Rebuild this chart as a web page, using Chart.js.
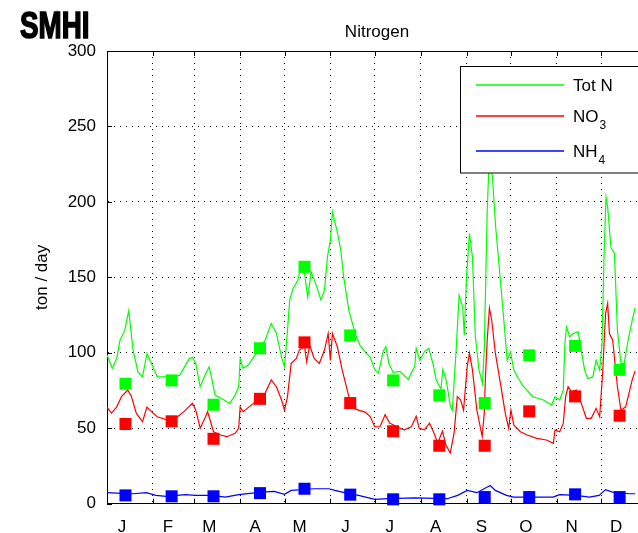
<!DOCTYPE html>
<html>
<head>
<meta charset="utf-8">
<title>Nitrogen</title>
<script src="https://cdn.jsdelivr.net/npm/chart.js@4.4.1/dist/chart.umd.min.js"></script>
<style>
html,body{margin:0;padding:0;background:#fff;overflow:hidden;}
canvas{display:block;}
</style>
</head>
<body>
<canvas id="myNitrogenChart" width="660" height="533"></canvas>
<script>
// x is day of year, y is ton / day
var monthStarts=[0,31,59,90,120,151,181,212,243,273,304,334,365];
var monthLabels=["J","F","M","A","M","J","J","A","S","O","N","D",""];
var seriesNames=["Tot N","NO3","NH4"];
var seriesColors=["#00ff00","#ff0000","#0000ff"];

var totNDays=[0,3.6,6.5,8.7,12,14.7,17.6,21,24,27,30,34,39,44,49,52,55.5,57.7,60,63,66.6,69,71,73,76.7,81,83,86.6,89,90,92,95.6,100,103.4,106.8,111,114.5,118,120,122,123.5,125.7,129,131,133.5,135.7,138,141,144.6,147,149,151,152.4,154,155.7,158,160,163.5,168,171,175,178,181,183.5,186.7,188.5,190.5,193.4,198,203.6,208,209,211.5,214.6,217.5,220.5,222.5,223.7,225.7,227,229,230.4,232,233.4,236,238,240.4,241.5,243,245,247,249,251.5,253.8,255,257,258.5,260.5,262.7,265,267.5,270.5,272.7,275,278,281.6,288,295,300.6,302.8,306,308.4,309.5,310.6,312.8,315,318.4,320.6,322.8,325,328.4,330.6,333,334.6,336,337.3,338.4,340.6,343,345,347.4,349.6,351.8,355,357];
var totNValues=[98.5,89.6,96,108,115,128,102,87,84,99.6,93,84,84,84,85,90,96,97,93,77.5,86,90.7,82,72,70,67.5,66.5,72,77.5,96,89.7,92,98.5,104,108,119.5,113,97,90.7,115,135,142.6,148,157,152.6,137,153.6,146,135,141.5,163.6,174.6,193.4,186.8,180,168,150,128,112,105,100,97,88.7,86.6,101,104,93,87,87.7,82.5,91,103,95,101,103,92,82,79.7,76,89,83,75.3,65,62,101.8,138,130.5,111.7,150,179,163.6,110.6,88.5,79.7,101.8,194.5,232,216.5,183.5,158,130,95,100.7,88.5,83,77.5,70.9,68.7,65.4,70.9,68.7,75.3,106,117,110.6,112.8,113.9,101.8,88.5,83,84,95,88.5,106,165.8,203,196.7,170,165.8,115,93,93,106,121.7,130];

var no3Days=[0,3,6.5,9.8,14,16.5,19.8,24,27,30,34,41,47.7,52,57.7,60,63,66.6,68,72,76.7,81,86.6,89,90,92,99,102,106.8,111,114.5,118,120,122,124.5,128,130,133.5,135,137,140,143.5,147,149.5,151,152.4,155.7,159,162.4,164.6,167,170,174.7,178,181,184.5,188,191,198,201,205.7,209,211,214.6,218,221,223.5,226.8,229,232,234.6,236.8,239,241,243.5,245,247,250,253.6,255,255.8,257,258.5,260,262.5,265.7,269.2,271.5,273,275,279.4,284,290.5,297,301.7,302.8,306,308.4,310,311.7,314,317.3,320.6,324,327.3,330.6,333,335,337,338.4,339.6,341.8,345,347.4,350.6,355,357];
var no3Values=[64,60,64,71,75.3,71,60,54.3,64,61,57.6,55.4,57.6,61,66.5,62,50,57.6,61,47.7,45.5,44.4,46.6,50,64,61,66.5,69.8,73,82,77.5,68.7,62,70.9,93,96.3,101.8,104,94,105,96.3,93,101.8,112.8,95,112.8,104,88.5,75.3,66.5,63,62,60.5,57.6,51,51,59,53.4,50,49,51,57.9,50,49,53.4,46.8,40.2,48,39,33.6,46.8,71,68.9,62,91,99.8,88.7,62,44.6,60,84,108.6,129.6,121.9,99.8,81,60,50,62,52,47.7,45.5,43.3,42.2,40,48.8,47.7,53.2,70.9,77.5,74.2,75.3,66.5,56.6,56.6,63.2,57.6,86.4,126,132.7,112.8,108.4,77.5,62,64.2,82,88];

var nh4Days=[0,10,17.6,26.5,33,40,53,60,71,80,89,104.5,113,120,124.5,140,150,154,159,170,181,190,208,230,237,243.5,250,259,262.5,270,274.7,301.5,306,317,326,332.6,337,341.6,352.7,357];
var nh4Values=[7.3,6.8,6.6,7.3,5.5,4.9,6,5.5,5.5,4.4,6,7.7,8.2,6.2,8.8,9.9,9.9,8.8,7.7,5.5,2.9,3.3,3.8,3.3,5.5,8.8,7.3,12,8.8,5.5,4.4,4.4,6,5.5,4.4,5.5,9.3,7.7,6.6,6.6];

var monthlyDays=[12.5,43.7,72,103.4,133.5,164.4,193.4,224.6,255.3,285.4,316.4,346.5];
var monthlyTotN=[79.5,81.7,65.6,103,157,111.5,81.7,71.8,66.7,98.3,104.6,88.7];
var monthlyNO3=[52.8,54.6,43,69.5,106.9,66.7,48,38.4,38.4,61.2,71.1,58.3];
var monthlyNH4=[5.5,4.9,4.9,7,9.9,6,2.9,2.9,4.4,4.4,6.2,4.4];

var fontFamily='"Liberation Sans", Arial, sans-serif';

function toPoints(xs,ys){
    var pts=[];
    for(let i=0;i<xs.length;i++){
        pts.push({x:xs[i],y:ys[i]});
    }
    return pts;
}

function squares(name,ys,color){
    return {
        label:name,
        data:toPoints(monthlyDays,ys),
        showLine:false,
        pointStyle:"rect",
        pointRadius:8.5,
        pointBorderWidth:0,
        backgroundColor:color,
        borderColor:color,
        clip:false
    };
}

function line(name,xs,ys,color){
    return {
        label:name,
        data:toPoints(xs,ys),
        showLine:true,
        pointRadius:0,
        borderWidth:1.2,
        borderColor:color,
        backgroundColor:color,
        tension:0
    };
}

// frame, inward ticks, title, logo and the boxed legend
var decorations={
    id:"decorations",
    afterDraw:function(chart){
        var ctx=chart.ctx;
        var a=chart.chartArea;
        var xs=chart.scales.x, ys=chart.scales.y;
        ctx.save();
        ctx.strokeStyle="#000";
        ctx.lineWidth=1;
        ctx.beginPath();
        ctx.moveTo(a.left,Math.round(a.top)+0.5);
        ctx.lineTo(a.right,Math.round(a.top)+0.5);
        ctx.stroke();
        ctx.beginPath();
        xs.ticks.forEach(function(t){
            var px=Math.round(xs.getPixelForValue(t.value))+0.5;
            ctx.moveTo(px,a.top);
            ctx.lineTo(px,a.top+5);
            ctx.moveTo(px,a.bottom);
            ctx.lineTo(px,a.bottom-5);
        });
        ys.ticks.forEach(function(t){
            var py=Math.round(ys.getPixelForValue(t.value))+0.5;
            ctx.moveTo(a.left,py);
            ctx.lineTo(a.left+5,py);
        });
        ctx.stroke();

        ctx.fillStyle="#000";
        ctx.textAlign="center";
        ctx.textBaseline="alphabetic";
        ctx.font="17px "+fontFamily;
        ctx.fillText("Nitrogen",377,37);

        // logo text squeezed to the narrow look of the original
        ctx.textAlign="left";
        ctx.font="bold 37px "+fontFamily;
        ctx.save();
        ctx.translate(20,38);
        ctx.scale(0.75,1);
        ctx.lineWidth=1.6;
        ctx.fillText("SMHI",0,0);
        ctx.strokeText("SMHI",0,0);
        ctx.restore();

        // legend
        ctx.fillStyle="#fff";
        ctx.fillRect(461,67,190,106);
        ctx.strokeStyle="#000";
        ctx.lineWidth=1;
        ctx.strokeRect(460.5,66.5,190,106.5);
        var rows=[85,116,151];
        for(let i=0;i<seriesNames.length;i++){
            var y=rows[i];
            ctx.strokeStyle=seriesColors[i];
            ctx.lineWidth=1.4;
            ctx.beginPath();
            ctx.moveTo(476,y);
            ctx.lineTo(564,y);
            ctx.stroke();
            var m=seriesNames[i].match(/^(.*?)(\d)$/);
            var main=m?m[1]:seriesNames[i];
            ctx.fillStyle="#000";
            ctx.font="17px "+fontFamily;
            ctx.fillText(main,573,y+6);
            if(m){
                var w=ctx.measureText(main).width;
                ctx.font="12px "+fontFamily;
                ctx.fillText(m[2],573+w+1,y+13);
            }
        }
        ctx.restore();
    }
};

window.onload=function(){
    Chart.defaults.font.family=fontFamily;
    Chart.defaults.font.size=17;
    Chart.defaults.color="#000";
    new Chart("myNitrogenChart",{
        type:"scatter",
        data:{
            datasets:[
                squares(seriesNames[0]+" month",monthlyTotN,seriesColors[0]),
                squares(seriesNames[1]+" month",monthlyNO3,seriesColors[1]),
                squares(seriesNames[2]+" month",monthlyNH4,seriesColors[2]),
                line(seriesNames[0],totNDays,totNValues,seriesColors[0]),
                line(seriesNames[1],no3Days,no3Values,seriesColors[1]),
                line(seriesNames[2],nh4Days,nh4Values,seriesColors[2])
            ]
        },
        options:{
            responsive:false,
            animation:false,
            events:[],
            layout:{padding:{top:51,right:7,bottom:0,left:0}},
            plugins:{
                legend:{display:false},
                tooltip:{enabled:false}
            },
            scales:{
                x:{
                    type:"linear",
                    min:0,
                    max:365,
                    afterBuildTicks:function(s){
                        s.ticks=monthStarts.map(function(v){return {value:v};});
                    },
                    afterFit:function(s){ s.height=29.3; },
                    ticks:{
                        autoSkip:false,
                        maxRotation:0,
                        labelOffset:15,
                        padding:13,
                        callback:function(v,i){ return monthLabels[i]; }
                    },
                    grid:{color:"#000",drawTicks:false},
                    border:{color:"#000",width:1,dash:[1,5]}
                },
                y:{
                    min:0,
                    max:300,
                    ticks:{stepSize:50,padding:11},
                    afterFit:function(s){ s.width=107; },
                    grid:{color:"#000",drawTicks:false},
                    border:{color:"#000",width:1,dash:[1,5]},
                    title:{
                        display:true,
                        text:"ton / day",
                        padding:{top:32,bottom:0}
                    }
                }
            }
        },
        plugins:[decorations]
    });
};
</script>
</body>
</html>
